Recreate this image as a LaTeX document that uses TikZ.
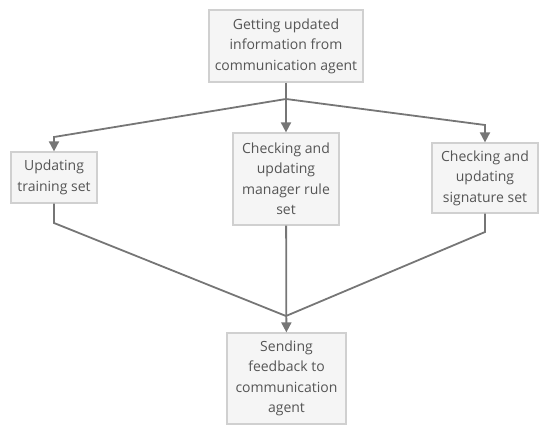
\documentclass[tikz,border=0pt]{standalone}
\usepackage{fontspec}
\setmainfont{Open Sans}
\usetikzlibrary{arrows.meta, positioning, calc}
\definecolor{garisabu}{RGB}{118,118,118}
\definecolor{isikotak}{RGB}{245,245,245}
\definecolor{tepikotak}{RGB}{208,208,208}
\definecolor{teksabu}{RGB}{85,85,85}

\begin{document}
\begin{tikzpicture}[x=1pt, y=-1pt, font=\fontsize{14}{20.5}\selectfont,
    kotak/.style={rectangle, draw=tepikotak, line width=1.2pt, fill=isikotak,
                  text=teksabu, align=center, inner sep=2pt},
    panah/.style={-{Triangle[width=10pt,length=10pt]}, draw=garisabu, line width=1.8pt},
    garis/.style={draw=garisabu, line width=1.8pt}]
        \useasboundingbox (0,0) rectangle (550,433);
        % kotak
        \node[kotak, minimum width=154pt, minimum height=72pt] (info) at (286,46)
            {Getting updated\\information from\\communication agent};
        \node[kotak, minimum width=86pt, minimum height=51pt] (latih) at (54,177.5)
            {Updating\\training set};
        \node[kotak, minimum width=106pt, minimum height=92pt] (aturan) at (286,179)
            {Checking and\\updating\\manager rule\\set};
        \node[kotak, minimum width=106pt, minimum height=70pt] (tanda) at (485,178)
            {Checking and\\updating\\signature set};
        \node[kotak, minimum width=119pt, minimum height=91pt] (umpan) at (286.5,378.5)
            {Sending\\feedback to\\communication\\agent};
        % titik belok
        \coordinate (pisah) at (286,99);
        \coordinate (belokkiri) at (54,137);
        \coordinate (belokkanan) at (485,125);
        \coordinate (gabungkiri) at (54,223);
        \coordinate (gabungkanan) at (485,232);
        \coordinate (gabung) at (286,316);
        % panah
        \draw[garis] (info) -- (pisah);
        \draw[panah] (pisah) -- (belokkiri) -- (latih);
        \draw[panah] (pisah) -- (aturan);
        \draw[panah] (pisah) -- (belokkanan) -- (tanda);
        \draw[garis] (latih) -- (gabungkiri) -- (gabung);
        \draw[garis] (tanda) -- (gabungkanan) -- (gabung);
        \draw[panah] (aturan) -- (umpan);
\end{tikzpicture}
\end{document}
